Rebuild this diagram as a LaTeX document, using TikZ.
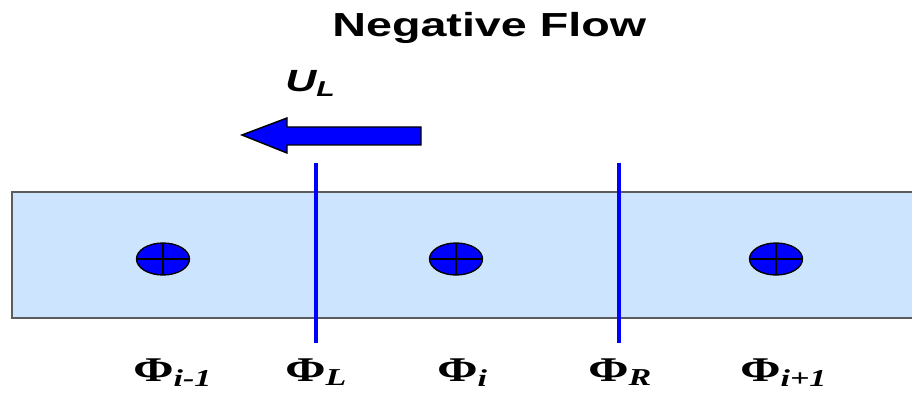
\documentclass[tikz,border=0pt]{standalone}
\usepackage{fontspec}
\setmainfont{Liberation Serif}
\setsansfont{Liberation Sans}
\usetikzlibrary{positioning}
\definecolor{bandfill}{RGB}{204,228,253}
\definecolor{bandline}{RGB}{92,92,92}

\begin{document}
\begin{tikzpicture}[x=0.75pt,y=-0.75pt,
 txt/.style={inner sep=0,anchor=base west,xscale=1.4},
 phi/.style={txt,font=\fontsize{26}{26}\selectfont\bfseries},
 face/.style={line width=3pt,blue}]
\useasboundingbox (0,0) rectangle (912,395);
\node[txt,font=\fontsize{25}{25}\selectfont\sffamily\bfseries] (title) at (332,37) {Negative Flow};
\node[txt,font=\fontsize{23}{23}\selectfont\sffamily\bfseries\itshape] (uL) at (285,92) {U\textsubscript{L}};
% the flow channel
\draw[fill=bandfill,draw=bandline,line width=1.5pt] (12,192) rectangle (916,318);
% cell faces
\draw[face] (316,163) -- (316,343);
\draw[face] (619,163) -- (619,343);
% cell centres
\foreach \x in {163,456,776} {
 \draw[fill=blue,line width=1pt] (\x,259) ellipse [x radius=26.5,y radius=16];
 \draw[line width=1pt] (\x-26.5,259) -- (\x+26.5,259) (\x,243) -- (\x,275);
}
% velocity arrow
\draw[fill=blue,line width=1.1pt,line join=miter] (242,135) -- (287,118) -- (287,127) -- (421,127)
 -- (421,145) -- (287,145) -- (287,153) -- cycle;
% labels
\foreach \n/\x/\s in {phiA/133/i-1,phiL/285/L,phiI/437/i,phiR/588/R,phiB/740/i+1}
 \node[phi] (\n) at (\x,381) {Φ\textsubscript{\itshape\s}};
\end{tikzpicture}
\end{document}
